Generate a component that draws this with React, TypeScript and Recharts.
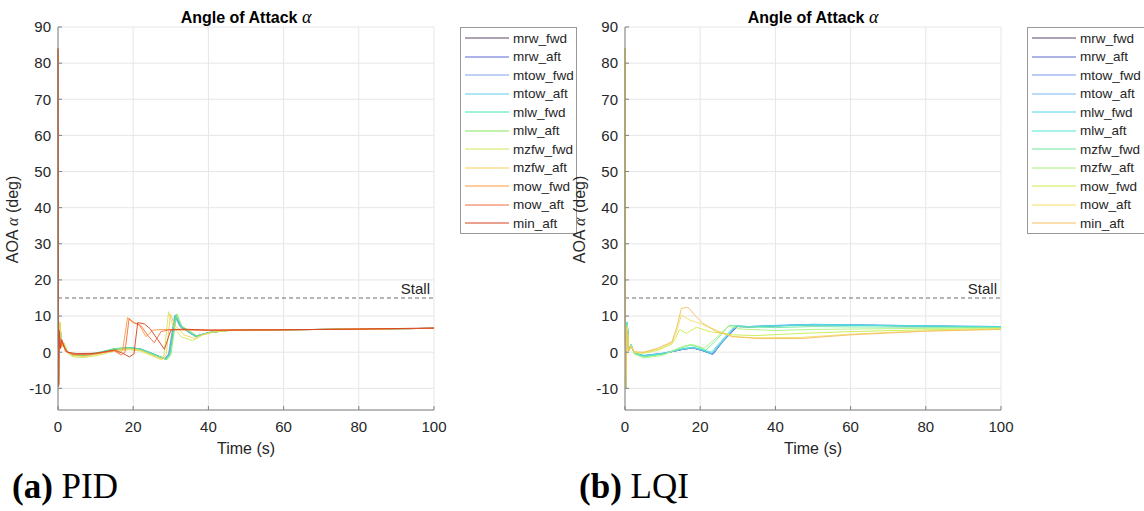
import React from 'react';
import { LineChart, Line, XAxis, YAxis, CartesianGrid, ReferenceLine, Legend, Label } from 'recharts';

type Pt = [number, number];

// Load cases (same order in both controllers)
const seriesNames = ['mrw_fwd', 'mrw_aft', 'mtow_fwd', 'mtow_aft', 'mlw_fwd', 'mlw_aft', 'mzfw_fwd', 'mzfw_aft', 'mow_fwd', 'mow_aft', 'min_aft'];

const timeTicks = [0, 20, 40, 60, 80, 100];
const aoaTicks = [-10, 0, 10, 20, 30, 40, 50, 60, 70, 80, 90];
const stallAoa = 15;

const pidColors = ['#5a4468', '#5b66d6', '#7fa3ea', '#5fcbe8', '#3fe8b0', '#86e85a', '#d2e65a', '#f6cf5a', '#ff9838', '#f26b3a', '#d4431f'];
const lqiColors = ['#5a4468', '#5b66c8', '#7898e8', '#78b4f2', '#4fd4ec', '#4fe6d4', '#6ee89c', '#a9f27a', '#c8ec4a', '#f2e064', '#f5bd5a'];

// PID controller: [time s, AoA deg]
const pidMrwFwd: Pt[] = [[0, 84], [0.15, -9], [0.5, 7.5], [1, 1.5], [1.6, 2.2], [2.5, 0], [4, -0.8], [7, -0.9], [11, -0.2], [15, 0.8], [19, 1.2], [22, 0.8], [25, -0.4], [28.5, -1.8], [29.5, -0.5], [31.2, 10.2], [32.5, 7.2], [36.5, 4.4], [40, 5.4], [45, 6.0], [60, 6.2], [80, 6.4], [100, 6.6]];
const pidMrwAft: Pt[] = [[0, 84], [0.15, -9], [0.5, 7.6], [1, 1.5], [1.6, 2.3], [2.5, 0], [4, -0.8], [7, -0.9], [11, -0.2], [15, 0.8], [19, 1.2], [22, 0.8], [25, -0.4], [28.6, -1.9], [29.6, -0.5], [31.3, 10.0], [32.6, 7.1], [36.6, 4.4], [40.1, 5.4], [45, 6.0], [60, 6.2], [80, 6.4], [100, 6.6]];
const pidMtowFwd: Pt[] = [[0, 84], [0.15, -9], [0.5, 7.8], [1, 1.5], [1.6, 2.3], [2.5, 0.1], [4, -0.7], [7, -0.8], [11, -0.1], [15, 0.9], [19, 1.3], [22, 0.9], [25, -0.3], [28.4, -1.8], [29.4, -0.5], [31.0, 10.1], [32.4, 7.1], [36.4, 4.4], [40, 5.4], [45, 6.0], [60, 6.2], [80, 6.4], [100, 6.6]];
const pidMtowAft: Pt[] = [[0, 84], [0.15, -9], [0.5, 7.9], [1, 1.5], [1.6, 2.4], [2.5, 0.1], [4, -0.7], [7, -0.8], [11, -0.1], [15, 0.9], [19, 1.2], [22, 0.8], [25, -0.4], [28.8, -2.0], [29.8, -0.6], [31.4, 10.4], [32.8, 7.1], [36.8, 4.4], [40.3, 5.5], [45, 6.0], [60, 6.2], [80, 6.4], [100, 6.6]];
const pidMlwFwd: Pt[] = [[0, 84], [0.15, -9], [0.5, 8], [1, 1.5], [1.6, 2.4], [2.5, 0.2], [4, -0.6], [7, -0.7], [11, 0], [15, 1.0], [19, 1.3], [22, 0.9], [25, -0.3], [28.6, -1.9], [29.6, -0.6], [31.2, 10.2], [32.6, 7.0], [36.7, 4.3], [40.3, 5.5], [45, 6.0], [60, 6.2], [80, 6.4], [100, 6.6]];
const pidMlwAft: Pt[] = [[0, 84], [0.15, -9], [0.5, 8.2], [1, 1.5], [1.6, 2.5], [2.5, 0], [4, -0.9], [7, -1.0], [11, -0.3], [15, 0.9], [19, 1.1], [22, 0.6], [25, -0.6], [29, -2.1], [30, -0.8], [31.6, 10.6], [33, 7.2], [37, 4.5], [40.5, 5.4], [45, 6.0], [60, 6.2], [80, 6.4], [100, 6.6]];
const pidMzfwFwd: Pt[] = [[0, 84], [0.15, -9], [0.5, 8.4], [1, 1.5], [1.6, 2.5], [2.5, -0.2], [4, -1.3], [7, -1.5], [11, -0.8], [15, 0.3], [19, 0.7], [22, 0.3], [25, -1], [27.3, -2.0], [28.2, -0.8], [29.4, 11.2], [30.5, 7.5], [32.7, 4.3], [35.8, 3.2], [38.5, 4.8], [42, 5.7], [48, 6.1], [60, 6.2], [80, 6.4], [100, 6.6]];
const pidMzfwAft: Pt[] = [[0, 84], [0.15, -9], [0.5, 8], [1, 1.5], [1.6, 2.4], [2.5, 0], [4, -1], [7, -1.2], [11, -0.5], [15, 0.5], [19, 0.9], [22, 0.5], [25, -0.8], [27.8, -2.1], [28.8, -0.6], [29.9, 10.6], [31, 7.6], [33.5, 4.8], [36.3, 3.8], [39, 5], [42, 5.8], [48, 6.1], [60, 6.2], [80, 6.4], [100, 6.6]];
const pidMowFwd: Pt[] = [[0, 84], [0.15, -9], [0.35, 6], [0.7, 1], [1.2, 2.5], [2, 0.2], [4, -0.5], [8, -0.6], [12, 0], [15, 0.5], [16.3, -0.3], [17.2, 0.6], [18.5, 9.6], [19.9, 8.2], [21.5, 7.8], [23.4, 4.3], [25.2, 6.1], [28, 6.3], [35, 6.1], [45, 6.1], [60, 6.2], [80, 6.4], [100, 6.6]];
const pidMowAft: Pt[] = [[0, 84], [0.15, -9], [0.35, 5], [0.7, 1.5], [1.2, 3], [2, 0.3], [4, -0.6], [8, -0.7], [12, -0.1], [15, 0.4], [16.8, -0.8], [17.8, 0], [18.9, 9.3], [20.3, 8.1], [22, 7.4], [24, 4.5], [25.6, 2.6], [27.4, 5.7], [30, 6.3], [40, 6.1], [60, 6.2], [80, 6.4], [100, 6.6]];
const pidMinAft: Pt[] = [[0, 84], [0.15, -9.5], [0.3, 6], [0.6, 1], [1, 3.5], [1.6, 1.5], [2.5, 0], [5, -0.4], [10, -0.3], [15, 0.6], [17, -0.2], [19, -1.3], [20.2, -0.5], [21.2, 8.2], [23, 7.8], [24.5, 6.5], [26.5, 3.5], [28.3, 0.8], [30, 6.1], [33, 6.4], [40, 6.1], [60, 6.2], [80, 6.4], [100, 6.7]];

// LQI controller: [time s, AoA deg]
const lqiMrwFwd: Pt[] = [[0, 84], [0.15, -10], [0.6, 8], [1, 0.5], [1.6, 2], [2.5, -0.3], [5, -1], [10, -0.4], [15, 0.7], [18, 1.2], [21, 0.3], [23.3, -0.6], [26, 3], [29.8, 7.1], [33, 7.0], [40, 7.3], [50, 7.6], [60, 7.5], [80, 7.2], [100, 7.0]];
const lqiMrwAft: Pt[] = [[0, 84], [0.15, -10], [0.6, 8.1], [1, 0.5], [1.6, 2], [2.5, -0.3], [5, -1], [10, -0.4], [15, 0.7], [18, 1.2], [21, 0.3], [23.4, -0.6], [26.1, 3], [29.9, 7.1], [33, 7.0], [40, 7.3], [50, 7.6], [60, 7.5], [80, 7.2], [100, 7.0]];
const lqiMtowFwd: Pt[] = [[0, 84], [0.15, -10], [0.6, 8.2], [1, 0.5], [1.6, 2], [2.5, -0.3], [5, -0.9], [10, -0.3], [15, 0.8], [18, 1.3], [21, 0.4], [23.2, -0.5], [26, 3], [29.7, 7.2], [33, 7.1], [40, 7.4], [50, 7.7], [60, 7.6], [80, 7.3], [100, 7.1]];
const lqiMtowAft: Pt[] = [[0, 84], [0.15, -10], [0.6, 8.2], [1, 0.5], [1.6, 2.1], [2.5, -0.2], [5, -1], [10, -0.4], [15, 0.8], [18, 1.3], [21, 0.5], [23.1, -0.3], [25.8, 3], [29.5, 7.3], [33, 7.1], [40, 7.3], [50, 7.6], [60, 7.5], [80, 7.2], [100, 7.0]];
const lqiMlwFwd: Pt[] = [[0, 84], [0.15, -10], [0.6, 8.2], [1, 0.5], [1.6, 2], [2.5, -0.3], [5, -0.9], [10, -0.3], [15, 0.8], [18, 1.3], [21, 0.4], [23.2, -0.6], [26, 3], [29.6, 7.2], [33, 7.1], [40, 7.4], [50, 7.7], [60, 7.6], [80, 7.3], [100, 7.1]];
const lqiMlwAft: Pt[] = [[0, 84], [0.15, -10], [0.6, 8.4], [1, 0.5], [1.6, 2.2], [2.5, -0.2], [5, -1.1], [10, -0.5], [15, 0.9], [18, 1.4], [21, 0.6], [23, 0], [25.5, 3], [29.2, 7.3], [33, 7.0], [40, 7.2], [50, 7.5], [60, 7.4], [80, 7.2], [100, 7.0]];
const lqiMzfwFwd: Pt[] = [[0, 84], [0.15, -10], [0.6, 8], [1, 0.3], [1.6, 1.8], [2.5, -0.4], [5, -1.3], [10, -0.6], [15, 1.2], [17.5, 2], [20, 1.2], [21.5, 0.6], [24, 3], [27.8, 7.5], [31, 7], [40, 6.8], [50, 7.1], [60, 7.0], [80, 6.9], [100, 6.8]];
const lqiMzfwAft: Pt[] = [[0, 84], [0.15, -10], [0.6, 7.5], [1, 0.3], [1.6, 1.8], [2.5, -0.5], [5, -1.6], [10, -0.9], [15, 1.5], [17.5, 2.2], [20, 1.5], [21, 1.1], [23.5, 3.2], [27.5, 7.2], [31, 6.4], [40, 6.0], [50, 6.3], [60, 6.4], [80, 6.6], [100, 6.7]];
const lqiMowFwd: Pt[] = [[0, 84], [0.15, -10], [0.6, 7], [1, 0.3], [1.6, 1.8], [2.5, -0.2], [5, -0.3], [9, 0.6], [12.5, 2.3], [13.5, 4], [14.5, 6.3], [16.3, 5.2], [19, 6.9], [22.5, 5.7], [28.7, 4.8], [35, 4.6], [47, 5.2], [60, 5.7], [80, 6.2], [100, 6.5]];
const lqiMowAft: Pt[] = [[0, 84], [0.15, -10], [0.6, 6.5], [1, 0.3], [1.6, 1.8], [2.5, 0], [5, -0.1], [9, 0.9], [12.5, 2.6], [13.8, 6], [15, 10.3], [17.2, 8.9], [19.9, 8], [24.3, 6.1], [28.7, 4.3], [35, 4], [47, 4.1], [60, 5], [80, 5.9], [100, 6.4]];
const lqiMinAft: Pt[] = [[0, 84], [0.15, -10], [0.6, 6], [1, 0.3], [1.6, 1.5], [2.5, 0.1], [5, 0], [9, 1.2], [12.5, 2.9], [13.8, 7], [15, 12.1], [16.4, 12.4], [17, 12.2], [18.5, 10.3], [20.7, 8], [24.3, 5.7], [28.7, 4.3], [35, 3.8], [47, 3.8], [60, 4.8], [80, 5.8], [100, 6.3]];

const pidRuns = [pidMrwFwd, pidMrwAft, pidMtowFwd, pidMtowAft, pidMlwFwd, pidMlwAft, pidMzfwFwd, pidMzfwAft, pidMowFwd, pidMowAft, pidMinAft];
const lqiRuns = [lqiMrwFwd, lqiMrwAft, lqiMtowFwd, lqiMtowAft, lqiMlwFwd, lqiMlwAft, lqiMzfwFwd, lqiMzfwAft, lqiMowFwd, lqiMowAft, lqiMinAft];

const SANS = '"Liberation Sans", Arial, Helvetica, sans-serif';
const SERIF = '"Liberation Serif", "Times New Roman", serif';
const TEXT = '#262626';

const CHART_W = 580;
const CHART_H = 470;
const PLOT_LEFT = 58;
const PLOT_RIGHT = 434;
const PLOT_TOP = 27;

const toRows = (pts: Pt[]) => pts.map(([t, a]) => ({ t, a }));

function LegendBox({ payload, width }: any) {
  // keep the legend in load-case order
  const items = [...(payload || [])].sort((p: any, q: any) => seriesNames.indexOf(p.value) - seriesNames.indexOf(q.value));
  return (
    <div style={{ width, height: 207, boxSizing: 'border-box', border: '1px solid #999', background: '#fff', fontFamily: SANS, fontSize: 13.5, color: TEXT, paddingTop: 1 }}>
      {items.map((p: any) => (
        <div key={p.value} style={{ height: 18.5, display: 'flex', alignItems: 'center' }}>
          <svg width={52} height={10} style={{ flex: 'none' }}>
            <line x1={4} x2={48} y1={5} y2={5} stroke={p.color} strokeWidth={1} />
          </svg>
          <span style={{ whiteSpace: 'nowrap' }}>{p.value}</span>
        </div>
      ))}
    </div>
  );
}

function AoaLabel({ viewBox }: any) {
  const cx = viewBox.x + 18;
  const cy = viewBox.y + viewBox.height / 2 + 1;
  return (
    <text x={cx} y={cy} transform={`rotate(-90 ${cx} ${cy})`} textAnchor="middle" fill={TEXT} fontFamily={SANS} fontSize={16}>
      AOA <tspan fontFamily={SERIF} fontStyle="italic">α</tspan> (deg)
    </text>
  );
}

function TimeLabel({ viewBox }: any) {
  return (
    <text x={viewBox.x + viewBox.width / 2} y={viewBox.y + 44} textAnchor="middle" fill={TEXT} fontFamily={SANS} fontSize={16}>
      Time (s)
    </text>
  );
}

function Panel({ runs, colors, left, tag, method, legendWidth }: { runs: Pt[][]; colors: string[]; left: number; tag: string; method: string; legendWidth: number }) {
  return (
    <div style={{ position: 'absolute', left, top: 0, width: CHART_W, height: 511 }}>
      <div style={{ position: 'absolute', left: PLOT_LEFT, width: PLOT_RIGHT - PLOT_LEFT, top: 8, textAlign: 'center', fontFamily: SANS, fontWeight: 'bold', fontSize: 16, lineHeight: '18px', color: '#000' }}>
        Angle of Attack <span style={{ fontFamily: SERIF, fontStyle: 'italic', fontWeight: 'normal', fontSize: 18 }}>α</span>
      </div>
      <LineChart width={CHART_W} height={CHART_H} margin={{ top: PLOT_TOP, right: CHART_W - PLOT_RIGHT, bottom: 20, left: 0 }}>
        <CartesianGrid stroke="#e6e6e6" />
        <XAxis dataKey="t" type="number" domain={[0, 100]} ticks={timeTicks} height={40} stroke="#808080" tickSize={-4} tickMargin={15}
          tick={{ fill: TEXT, fontFamily: SANS, fontSize: 15 }} interval={0}>
          <Label content={<TimeLabel />} />
        </XAxis>
        <YAxis type="number" domain={[-16, 90]} ticks={aoaTicks} width={PLOT_LEFT} stroke="#808080" tickSize={-4} tickMargin={11}
          tick={{ fill: TEXT, fontFamily: SANS, fontSize: 15 }} interval={0} allowDataOverflow>
          <Label content={<AoaLabel />} />
        </YAxis>
        <ReferenceLine y={stallAoa} stroke="#6e6e6e" strokeDasharray="4 3"
          label={{ value: 'Stall', position: 'insideBottomRight', offset: 4, fill: TEXT, fontFamily: SANS, fontSize: 15 }} />
        {runs.map((pts, i) => (
          <Line key={seriesNames[i]} name={seriesNames[i]} data={toRows(pts)} dataKey="a" type="linear" dot={false}
            stroke={colors[i]} strokeWidth={1} strokeOpacity={0.9} isAnimationActive={false} />
        ))}
        <Legend layout="vertical" align="center" verticalAlign="middle"
          wrapperStyle={{ left: 460, top: PLOT_TOP, width: legendWidth, height: 207 }}
          content={<LegendBox width={legendWidth} />} />
      </LineChart>
      <div style={{ position: 'absolute', left: 12, top: 469, fontFamily: SERIF, fontSize: 35, lineHeight: '35px', color: '#000', whiteSpace: 'nowrap' }}>
        <b>({tag})</b> {method}
      </div>
    </div>
  );
}

export default function App() {
  return (
    <div style={{ position: 'absolute', left: 0, top: 0, width: 1144, height: 511, overflow: 'hidden', background: '#fff' }}>
      <Panel runs={pidRuns} colors={pidColors} left={0} tag="a" method="PID" legendWidth={117} />
      <Panel runs={lqiRuns} colors={lqiColors} left={567} tag="b" method="LQI" legendWidth={125} />
    </div>
  );
}
